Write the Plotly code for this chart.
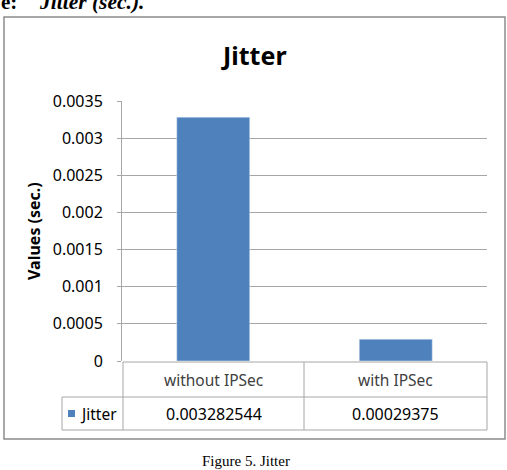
import plotly.graph_objects as go

categories = ["without IPSec", "with IPSec"]
jitter_values = [0.003282544, 0.00029375]
value_labels = ["0.003282544", "0.00029375"]
series_name = "Jitter"
tick_vals = [0, 0.0005, 0.001, 0.0015, 0.002, 0.0025, 0.003, 0.0035]
tick_text = ["0", "0.0005", "0.001", "0.0015", "0.002", "0.0025", "0.003", "0.0035"]

W, H = 507, 470
L, R, T, B = 122, 487, 101, 361


def px(x):
    return (x - L) / (R - L)


def py(y):
    return (B - y) / (B - T)


fig = go.Figure()
fig.add_trace(go.Bar(x=categories, y=jitter_values, marker_color="#4F81BD",
                     width=0.4, name=series_name, showlegend=False))

grid = "#A6A6A6"
shapes = []
shapes.append(dict(type="rect", xref="paper", yref="paper", x0=px(4), x1=px(505),
                   y0=py(439), y1=py(17), line=dict(color="#8C8C8C", width=1.5)))
line = dict(color=grid, width=1)
for yy, x0 in [(362, 123), (397, 62), (430, 62)]:
    shapes.append(dict(type="line", xref="paper", yref="paper", x0=px(x0), x1=px(487),
                       y0=py(yy), y1=py(yy), line=line))
for xx, y0 in [(62, 397), (123, 362), (304, 362), (487, 362)]:
    shapes.append(dict(type="line", xref="paper", yref="paper", x0=px(xx), x1=px(xx),
                       y0=py(y0), y1=py(430), line=line))
shapes.append(dict(type="rect", xref="paper", yref="paper", x0=px(68), x1=px(75),
                   y0=py(417), y1=py(410), fillcolor="#4F81BD", line=dict(width=0)))

ann = []
cat_font = dict(family="Noto Sans", size=15.5, color="#404040")
num_font = dict(family="Noto Sans", size=16, color="#000000")
col_centers = [213.5, 395.5]
for i, c in enumerate(categories):
    ann.append(dict(text=c, x=px(col_centers[i]), y=py(380), xref="paper", yref="paper",
                    showarrow=False, font=cat_font, xanchor="center", yanchor="middle"))
    ann.append(dict(text=value_labels[i], x=px(col_centers[i]), y=py(413.5), xref="paper",
                    yref="paper", showarrow=False, font=num_font,
                    xanchor="center", yanchor="middle"))
ann.append(dict(text=series_name, x=px(78), y=py(413.5), xref="paper", yref="paper",
                showarrow=False, font=dict(family="Noto Sans", size=15.5, color="#000000"),
                xanchor="left", yanchor="middle"))
ann.append(dict(text="<b>Jitter</b>", x=px(254), y=py(55), xref="paper", yref="paper",
                showarrow=False, font=dict(family="Noto Sans", size=25, color="#000000"),
                xanchor="center", yanchor="middle"))
ann.append(dict(text="<b>Values (sec.)</b>", x=px(34), y=py(231), xref="paper", yref="paper",
                showarrow=False, textangle=-90,
                font=dict(family="Noto Sans", size=16, color="#000000"),
                xanchor="center", yanchor="middle"))
ann.append(dict(text="Figure 5. Jitter", x=px(246), y=py(461), xref="paper", yref="paper",
                showarrow=False, font=dict(family="Liberation Serif", size=15, color="#000000"),
                xanchor="center", yanchor="middle"))
ann.append(dict(text="<b>e:</b>", x=px(-1), y=py(16), xref="paper",
                yref="paper", showarrow=False,
                font=dict(family="Liberation Serif", size=21, color="#000000"),
                xanchor="left", yanchor="bottom"))
ann.append(dict(text="<b><i>Jitter (sec.).</i></b>", x=px(37), y=py(16), xref="paper",
                yref="paper", showarrow=False,
                font=dict(family="Liberation Serif", size=21.5, color="#000000"),
                xanchor="left", yanchor="bottom"))

fig.update_layout(
    width=W, height=H,
    margin=dict(l=L, r=W - R, t=T, b=H - B, pad=0),
    paper_bgcolor="white", plot_bgcolor="white",
    shapes=shapes, annotations=ann,
    xaxis=dict(range=[-0.5, 1.5], showticklabels=False, showgrid=False,
               zeroline=False, showline=False, ticks=""),
    yaxis=dict(range=[0, 0.0035], tickvals=tick_vals, ticktext=tick_text,
               showgrid=True, gridcolor=grid, gridwidth=1, zeroline=False,
               showline=True, linecolor=grid, linewidth=1, ticks="outside",
               ticklen=4, tickcolor=grid, ticklabelstandoff=11,
               tickfont=dict(family="Noto Sans", size=16, color="#000000")),
    bargap=0.6,
)

fig.write_html("out.html")
